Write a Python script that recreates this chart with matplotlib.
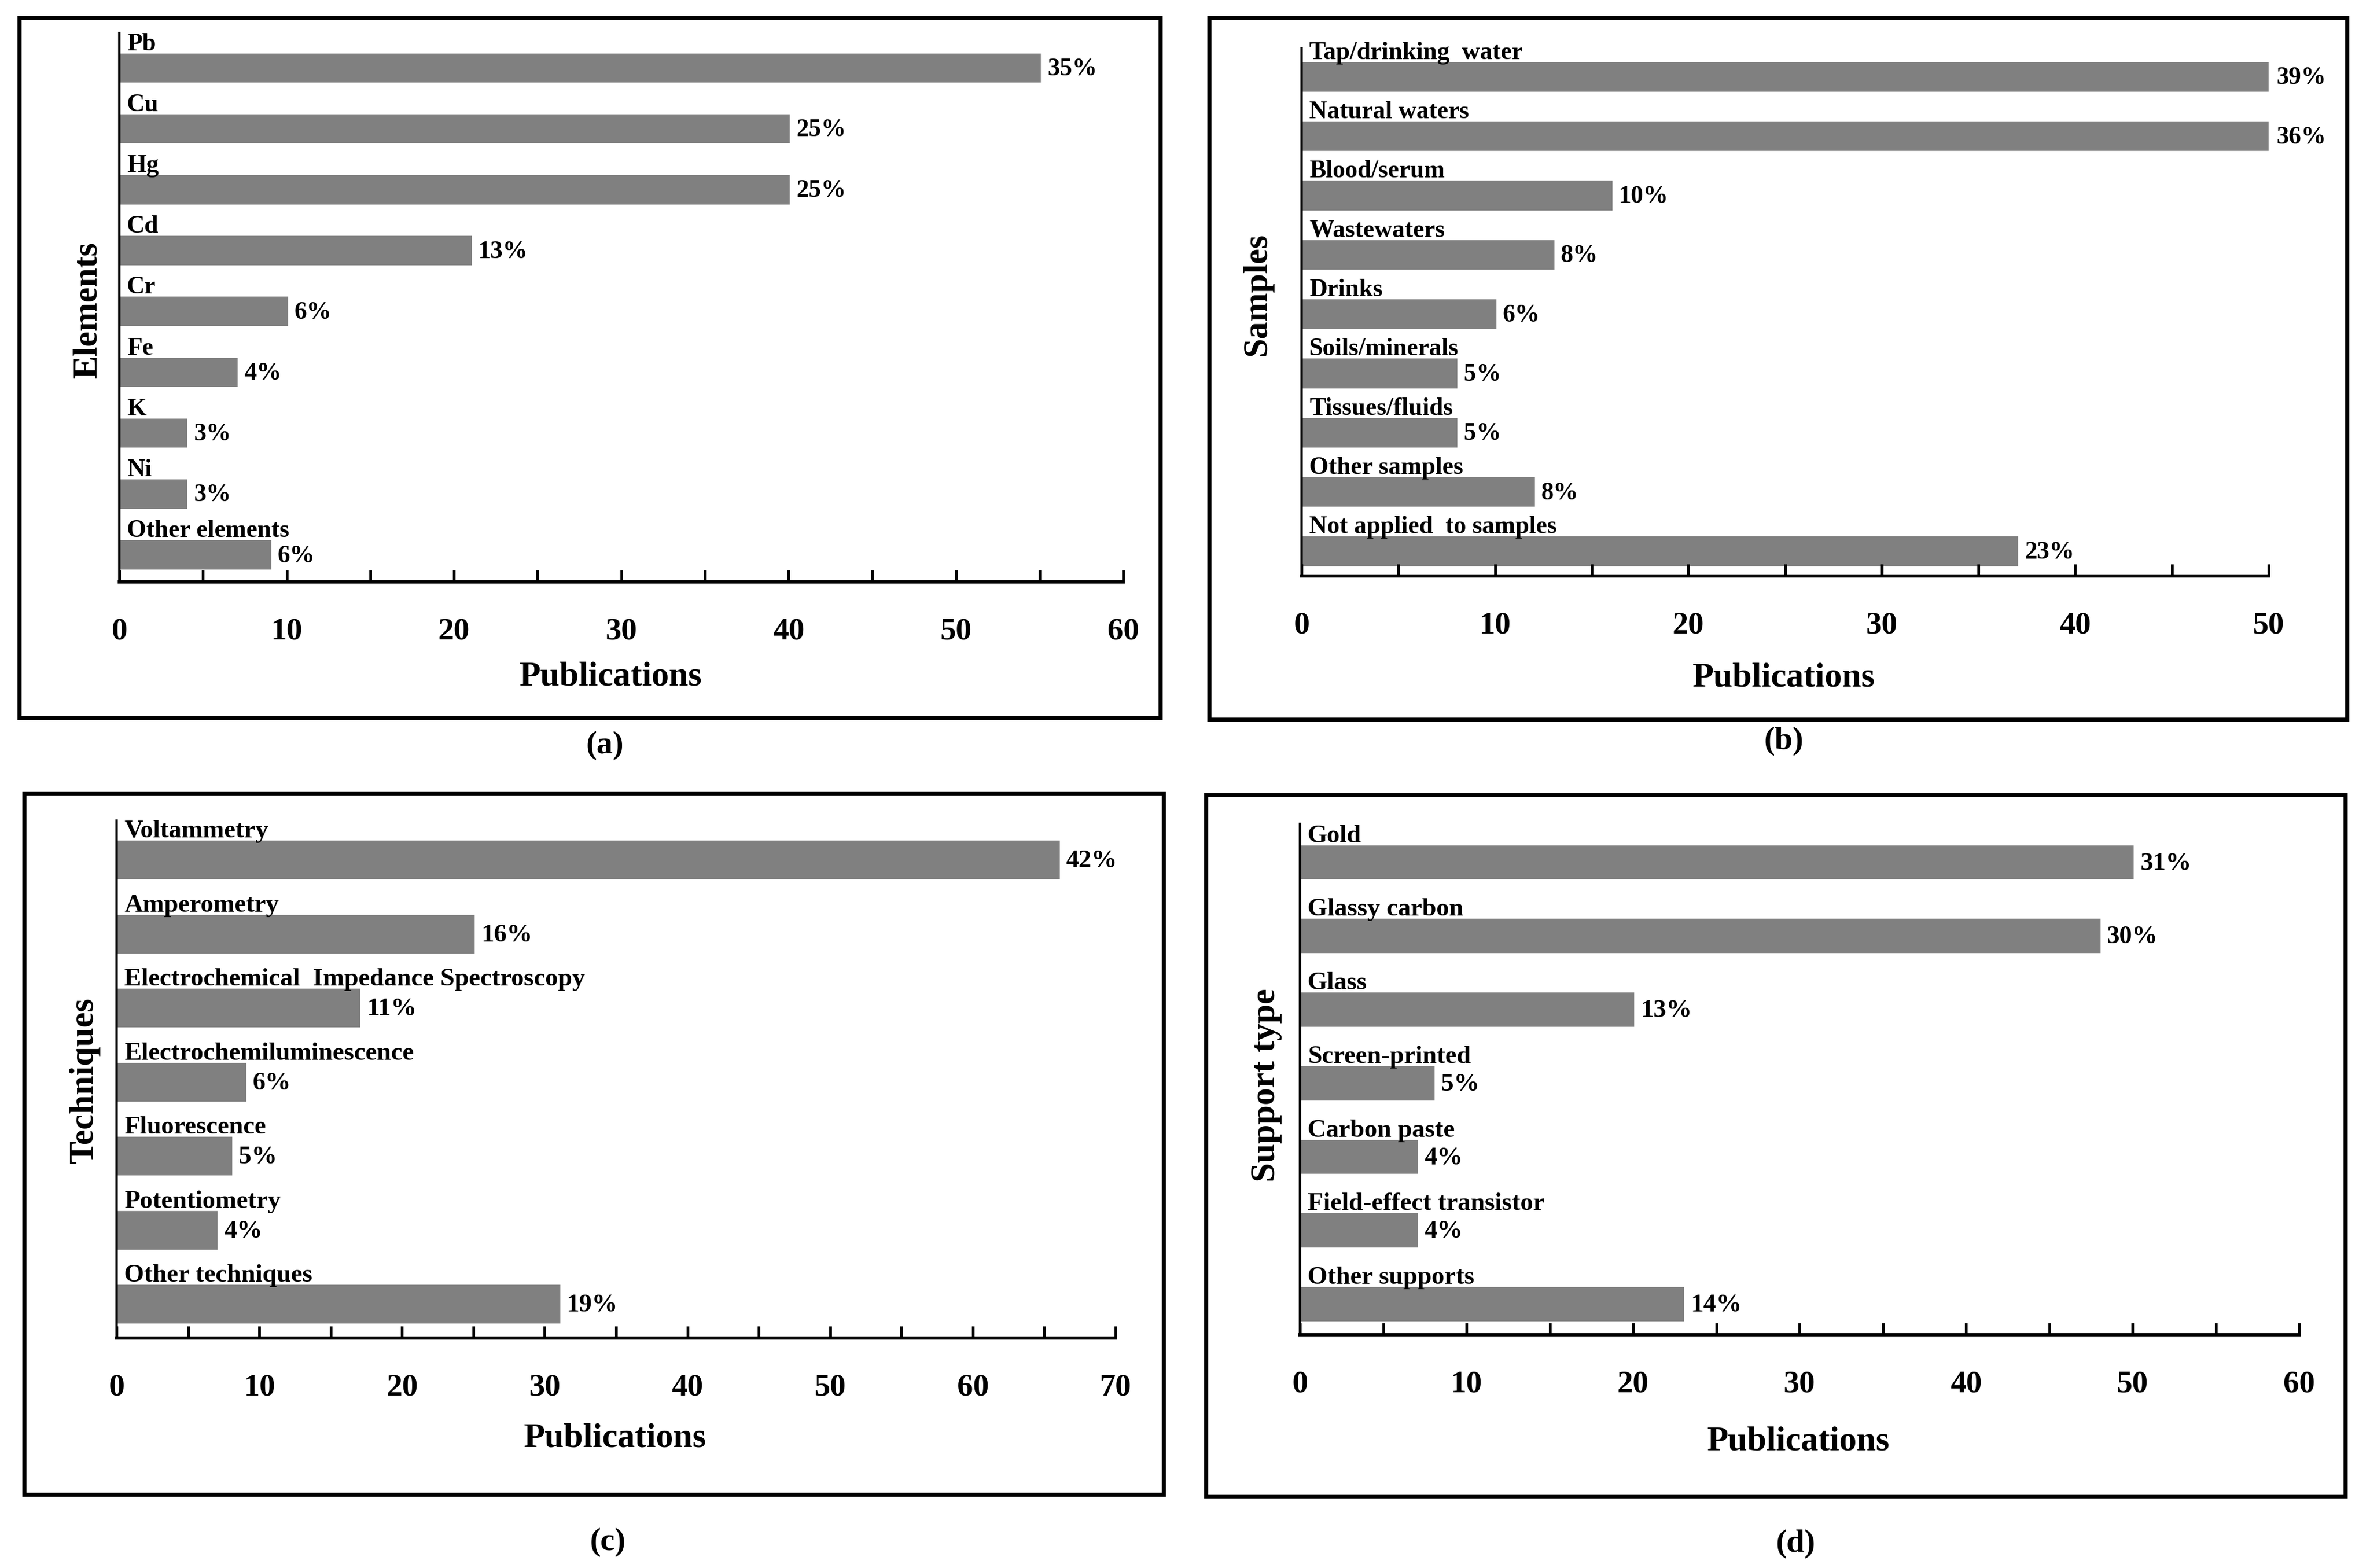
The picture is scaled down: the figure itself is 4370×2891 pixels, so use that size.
import numpy as np
import matplotlib
matplotlib.use('Agg')
import matplotlib.pyplot as plt
from matplotlib.patches import Rectangle

plt.rcParams['font.family'] = ['Liberation Serif', 'DejaVu Serif']
plt.rcParams['font.weight'] = 'bold'

# (a) elements
elements = ['Pb', 'Cu', 'Hg', 'Cd', 'Cr', 'Fe', 'K', 'Ni', 'Other elements']
elements_n = [55, 40, 40, 21, 10, 7, 4, 4, 9]
elements_pct = ['35%', '25%', '25%', '13%', '6%', '4%', '3%', '3%', '6%']

# (b) samples (first two bars run past the 50 axis limit)
samples = ['Tap/drinking  water', 'Natural waters', 'Blood/serum', 'Wastewaters', 'Drinks',
           'Soils/minerals', 'Tissues/fluids', 'Other samples', 'Not applied  to samples']
samples_n = [63, 58, 16, 13, 10, 8, 8, 12, 37]
samples_pct = ['39%', '36%', '10%', '8%', '6%', '5%', '5%', '8%', '23%']

# (c) techniques
techniques = ['Voltammetry', 'Amperometry', 'Electrochemical  Impedance Spectroscopy',
              'Electrochemiluminescence', 'Fluorescence', 'Potentiometry', 'Other techniques']
techniques_n = [66, 25, 17, 9, 8, 7, 31]
techniques_pct = ['42%', '16%', '11%', '6%', '5%', '4%', '19%']

# (d) support type
supports = ['Gold', 'Glassy carbon', 'Glass', 'Screen-printed', 'Carbon paste',
            'Field-effect transistor', 'Other supports']
supports_n = [50, 48, 20, 8, 7, 7, 23]
supports_pct = ['31%', '30%', '13%', '5%', '4%', '4%', '14%']

W, H = 4370, 2891
BAR = '#808080'


def fx(x):
    return x / W


def fy(y):
    return 1 - y / H


def panel(fig, box, names, vals, pcts, xmax, bh, ylim, fs_lab):
    x0, x1, ytop, ybot = box
    ax = fig.add_axes([fx(x0), fy(ybot), fx(x1 - x0), (ybot - ytop) / H])
    pos = np.arange(len(names))
    ax.barh(pos, vals, height=bh, color=BAR, edgecolor=BAR, linewidth=2.5)
    ax.set_xlim(0, xmax)
    ax.set_ylim(*ylim)
    for p, v, name, pc in zip(pos, vals, names, pcts):
        ax.annotate(name, xy=(0, p - bh / 2), xytext=(14, 7), textcoords='offset pixels',
                    ha='left', va='baseline', fontsize=fs_lab, fontweight='bold')
        ax.annotate(pc, xy=(min(v, xmax), p), xytext=(14, -3), textcoords='offset pixels',
                    ha='left', va='center', fontsize=fs_lab, fontweight='bold')
    ax.set_xticks(np.arange(0, xmax + 1, 10))
    ax.set_xticks(np.arange(5, xmax, 10), minor=True)
    ax.set_yticks([])
    ax.tick_params(axis='x', which='both', direction='in', length=16, width=3.6,
                   labelsize=42, pad=47)
    for t in ax.get_xticklabels():
        t.set_fontweight('bold')
    ax.spines['top'].set_visible(False)
    ax.spines['right'].set_visible(False)
    ax.spines['bottom'].set_linewidth(4.3)
    ax.spines['left'].set_linewidth(3.2)
    ax.patch.set_alpha(0)
    return ax


fig = plt.figure(figsize=(W / 100, H / 100), dpi=100)

# outer frames
frames = [(36, 2140, 33, 1324), (2230, 4328, 33, 1327),
          (45, 2146, 1463, 2756), (2224, 4325, 1466, 2759)]
for l, r, t, b in frames:
    fig.add_artist(Rectangle((fx(l), fy(b)), fx(r - l), (b - t) / H, transform=fig.transFigure,
                             fill=False, edgecolor='black', linewidth=5.4))

panel(fig, (220, 2071, 61, 1073), elements, elements_n, elements_pct, 60, 0.45, (8.45, -0.57), 33)
panel(fig, (2400, 4183, 89, 1062), samples, samples_n, samples_pct, 50, 0.47, (8.42, -0.48), 33)
panel(fig, (215, 2057, 1513, 2467), techniques, techniques_n, techniques_pct, 70, 0.5, (6.46, -0.53), 34)
panel(fig, (2397, 4239, 1519, 2461), supports, supports_n, supports_pct, 60, 0.44, (6.42, -0.52), 34)

texts = [
    (1126, 1249, 'Publications', 0), (162, 571, 'Elements', 90), (1115, 1374, '(a)', 0),
    (3289, 1251, 'Publications', 0), (2319, 543, 'Samples', 90), (3289, 1366, '(b)', 0),
    (1134, 2653, 'Publications', 0), (156, 1993, 'Techniques', 90), (1120, 2843, '(c)', 0),
    (3316, 2659, 'Publications', 0), (2335, 2001, 'Support type', 90), (3311, 2846, '(d)', 0),
]
for x, y, s, rot in texts:
    fig.text(fx(x), fy(y), s, ha='center', va='center', rotation=rot,
             fontsize=43 if s.startswith('(') else 46, fontweight='bold')

fig.savefig('out.png', dpi=100, facecolor='white')
